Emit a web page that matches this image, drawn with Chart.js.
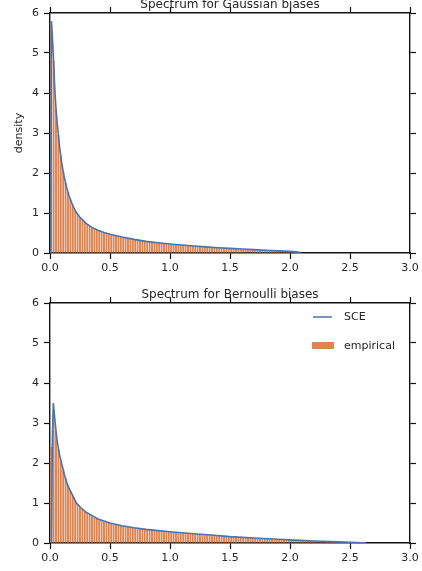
<!DOCTYPE html>
<html>
<head>
<meta charset="utf-8">
<script src="https://cdn.jsdelivr.net/npm/chart.js@4/dist/chart.umd.min.js"></script>
<style>
  body { margin: 0; background: #fff; }
  #wrap { position: relative; width: 422px; height: 571px; }
  canvas { position: absolute; left: 0; }
</style>
</head>
<body>
<div id="wrap">
  <canvas id="gauss" width="422" height="285" style="top:0px"></canvas>
  <canvas id="bern" width="422" height="286" style="top:285px"></canvas>
</div>
<script>
// histogram bins: width 0.02 starting at 0
var binWidth = 0.02;
var xTicks = [0.0, 0.5, 1.0, 1.5, 2.0, 2.5, 3.0];
var yTicks = [0, 1, 2, 3, 4, 5, 6];

// Gaussian biases
var gauss_sce_x = [0.005, 0.012, 0.02, 0.03, 0.04, 0.05, 0.06, 0.07, 0.08, 0.09, 0.10, 0.12, 0.14, 0.16, 0.18, 0.20,
  0.22, 0.25, 0.30, 0.35, 0.40, 0.45, 0.50, 0.60, 0.70, 0.80, 0.90, 1.00, 1.10, 1.20, 1.30, 1.40, 1.50,
  1.60, 1.70, 1.80, 1.90, 2.00, 2.05, 2.09];
var gauss_sce_y = [0, 5.8, 5.4, 4.8, 4.1, 3.6, 3.25, 2.95, 2.65, 2.42, 2.2, 1.88, 1.62, 1.42, 1.26, 1.12,
  1.01, 0.89, 0.74, 0.64, 0.57, 0.51, 0.47, 0.40, 0.34, 0.29, 0.255, 0.225, 0.2, 0.175, 0.152, 0.132, 0.116,
  0.099, 0.085, 0.069, 0.054, 0.04, 0.028, 0.012];
var gauss_emp = [5.7, 4.8, 3.6, 2.95, 2.42, 2.05, 1.75, 1.52, 1.34, 1.19,
  1.06, 0.96, 0.88, 0.82, 0.77, 0.72, 0.68, 0.64, 0.61, 0.58,
  0.56, 0.53, 0.51, 0.49, 0.48, 0.46, 0.45, 0.44, 0.42, 0.41,
  0.40, 0.39, 0.37, 0.36, 0.35, 0.34, 0.33, 0.32, 0.31, 0.30,
  0.29, 0.28, 0.28, 0.27, 0.26, 0.26, 0.25, 0.24, 0.235, 0.23,
  0.22, 0.215, 0.21, 0.205, 0.20, 0.195, 0.19, 0.185, 0.18, 0.175,
  0.17, 0.165, 0.16, 0.155, 0.15, 0.147, 0.143, 0.14, 0.136, 0.132,
  0.128, 0.125, 0.122, 0.118, 0.115, 0.112, 0.108, 0.105, 0.102, 0.099,
  0.096, 0.093, 0.09, 0.087, 0.084, 0.081, 0.078, 0.075, 0.072, 0.069,
  0.066, 0.063, 0.06, 0.057, 0.054, 0.051, 0.048, 0.045, 0.042, 0.038,
  0.034, 0.03, 0.025, 0.018, 0.01];

// Bernoulli biases
var bern_sce_x = [0.012, 0.02, 0.028, 0.04, 0.05, 0.06, 0.07, 0.08, 0.10, 0.11, 0.125, 0.15, 0.20, 0.22, 0.25,
  0.30, 0.40, 0.50, 0.60, 0.70, 0.80, 0.90, 1.00, 1.20, 1.34, 1.50, 1.70, 1.90, 2.00, 2.20, 2.40, 2.50, 2.60, 2.63];
var bern_sce_y = [0, 2.6, 3.5, 3.1, 2.8, 2.55, 2.35, 2.2, 1.95, 1.83, 1.65, 1.42, 1.12, 1.0, 0.9,
  0.77, 0.6, 0.5, 0.43, 0.38, 0.34, 0.31, 0.28, 0.23, 0.2, 0.16, 0.125, 0.092, 0.077, 0.05, 0.028, 0.018, 0.006, 0];
var bern_emp = [2.4, 3.3, 2.8, 2.35, 2.05, 1.83, 1.63, 1.45, 1.3, 1.18,
  1.07, 0.98, 0.91, 0.85, 0.79, 0.75, 0.71, 0.67, 0.64, 0.61,
  0.59, 0.56, 0.54, 0.52, 0.50, 0.49, 0.47, 0.46, 0.45, 0.44,
  0.43, 0.42, 0.41, 0.40, 0.39, 0.38, 0.37, 0.36, 0.355, 0.35,
  0.34, 0.335, 0.33, 0.32, 0.315, 0.31, 0.30, 0.295, 0.29, 0.285,
  0.28, 0.275, 0.27, 0.265, 0.26, 0.255, 0.25, 0.245, 0.24, 0.235,
  0.23, 0.225, 0.22, 0.215, 0.21, 0.205, 0.20, 0.195, 0.19, 0.186,
  0.182, 0.178, 0.174, 0.17, 0.166, 0.162, 0.158, 0.154, 0.15, 0.146,
  0.142, 0.138, 0.134, 0.13, 0.126, 0.122, 0.118, 0.114, 0.11, 0.107,
  0.104, 0.101, 0.098, 0.095, 0.092, 0.089, 0.086, 0.083, 0.08, 0.077,
  0.074, 0.071, 0.068, 0.065, 0.062, 0.059, 0.056, 0.053, 0.05, 0.048,
  0.046, 0.044, 0.042, 0.04, 0.038, 0.036, 0.034, 0.032, 0.03, 0.028,
  0.026, 0.024, 0.022, 0.02, 0.018, 0.016, 0.014, 0.012, 0.01, 0.008,
  0.005, 0.002];

var BLUE = '#4C72B0';
var ORANGE = '#DD8452';
var TEXT = '#262626';

Chart.defaults.font.family = 'DejaVu Sans';
Chart.defaults.font.size = 11;
Chart.defaults.color = TEXT;

function to_points(xs, ys) {
  var pts = [];
  for (let i = 0; i < xs.length; i++) pts.push({x: xs[i], y: ys[i]});
  return pts;
}

function bin_points(vals) {
  var pts = [];
  for (let i = 0; i < vals.length; i++) {
    pts.push({x: +(binWidth * i + binWidth / 2).toFixed(3), y: vals[i]});
  }
  return pts;
}

function frame_axis(pos, size, showLabels, isX) {
  var ax = {
    type: 'linear',
    position: pos,
    min: isX ? xTicks[0] : yTicks[0],
    max: isX ? xTicks[xTicks.length - 1] : yTicks[yTicks.length - 1],
    offset: false,
    afterBuildTicks: function(s) {
      s.ticks = (isX ? xTicks : yTicks).map(v => ({value: v}));
    },
    ticks: {
      display: showLabels,
      padding: isX ? 3 : 5,
      color: TEXT,
      font: {size: 11},
      callback: function(v) { return isX ? v.toFixed(1) : String(v); }
    },
    grid: {
      display: true,
      offset: false,
      drawOnChartArea: false,
      drawTicks: true,
      tickLength: 6,
      tickWidth: 1.2,
      tickColor: '#111'
    },
    border: {display: true, color: '#111', width: 1.4}
  };
  ax.afterFit = function(s) {
    if (isX) s.height = size; else s.width = size;
  };
  return ax;
}

var decor = {
  id: 'decor',
  afterDraw: function(chart, args, opts) {
    var ctx = chart.ctx;
    var area = chart.chartArea;
    ctx.save();
    ctx.fillStyle = TEXT;
    ctx.font = '12px "DejaVu Sans"';
    ctx.textAlign = 'center';
    ctx.textBaseline = 'alphabetic';
    ctx.fillText(opts.title, (area.left + area.right) / 2, area.top - 5);
    if (opts.ylabel) {
      ctx.font = '11px "DejaVu Sans"';
      ctx.translate(19, (area.top + area.bottom) / 2);
      ctx.rotate(-Math.PI / 2);
      ctx.textBaseline = 'middle';
      ctx.fillText(opts.ylabel, 0, 0);
    }
    ctx.restore();
    if (opts.legend) {
      var ds = chart.data.datasets;
      var lx = area.right - 97, ly = area.top + 14;
      ctx.save();
      ctx.font = '11px "DejaVu Sans"';
      ctx.textBaseline = 'middle';
      ctx.textAlign = 'left';
      // line entry
      ctx.strokeStyle = ds[0].borderColor;
      ctx.lineWidth = 1.5;
      ctx.beginPath();
      ctx.moveTo(lx, ly);
      ctx.lineTo(lx + 19, ly);
      ctx.stroke();
      ctx.fillStyle = TEXT;
      ctx.fillText(ds[0].label, lx + 31, ly + 0.5);
      // bar entry
      ctx.fillStyle = ds[1].backgroundColor;
      ctx.fillRect(lx - 1, ly + 25, 22, 7);
      ctx.fillStyle = TEXT;
      ctx.fillText(ds[1].label, lx + 31, ly + 29);
      ctx.restore();
    }
  }
};

function make_chart(id, sceX, sceY, emp, title, ylabel, showLegend, topH, bottomH) {
  return new Chart(document.getElementById(id), {
    type: 'bar',
    data: {
      datasets: [{
        type: 'line',
        label: 'SCE',
        data: to_points(sceX, sceY),
        borderColor: BLUE,
        borderWidth: 1.6,
        pointRadius: 0,
        tension: 0,
        fill: false,
        order: 0
      }, {
        type: 'bar',
        label: 'empirical',
        data: bin_points(emp),
        backgroundColor: ORANGE,
        borderWidth: 0,
        barPercentage: 0.8,
        categoryPercentage: 1.0,
        order: 1
      }]
    },
    options: {
      responsive: false,
      animation: false,
      layout: {padding: 0},
      plugins: {
        legend: {display: false},
        tooltip: {enabled: false},
        decor: {title: title, ylabel: ylabel, legend: showLegend}
      },
      scales: {
        x: frame_axis('bottom', bottomH, true, true),
        x2: frame_axis('top', topH, false, true),
        y: frame_axis('left', 50, true, false),
        y2: frame_axis('right', 12, false, false)
      }
    },
    plugins: [decor]
  });
}

make_chart('gauss', gauss_sce_x, gauss_sce_y, gauss_emp, 'Spectrum for Gaussian biases', 'density', false, 13, 32);
make_chart('bern', bern_sce_x, bern_sce_y, bern_emp, 'Spectrum for Bernoulli biases', null, true, 18, 28);
</script>
</body>
</html>
